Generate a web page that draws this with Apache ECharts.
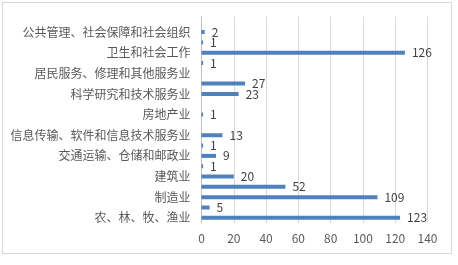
<!DOCTYPE html>
<html><head><meta charset="utf-8">
<script src="https://cdn.jsdelivr.net/npm/echarts@6/dist/echarts.min.js"></script>
<style>html,body{margin:0;padding:0;background:#fff}#c{width:458px;height:265px}</style>
</head><body><div id="c"></div>
<script>
const categories = ['农、林、牧、渔业','采矿业','制造业','电力、热力、燃气及水生产和供应业','建筑业','批发和零售业','交通运输、仓储和邮政业','住宿和餐饮业','信息传输、软件和信息技术服务业','金融业','房地产业','租赁和商务服务业','科学研究和技术服务业','水利、环境和公共设施管理业','居民服务、修理和其他服务业','教育','卫生和社会工作','文化、体育和娱乐业','公共管理、社会保障和社会组织','国际组织'];
const values = [123,5,109,52,20,1,9,1,13,null,1,null,23,27,null,1,126,1,2,null];
const xTicks = [0,20,40,60,80,100,120,140];

const font = '"Noto Sans CJK SC", "Noto Sans", sans-serif';
const chart = echarts.init(document.getElementById('c'));
chart.setOption({
  animation: false,
  backgroundColor: '#ffffff',
  graphic: [{type:'rect', shape:{x:2.5,y:2.5,width:449,height:251}, style:{fill:'none',stroke:'#d9d9d9',lineWidth:1}, silent:true}],
  grid: {left: 201.5, right: 30.5, top: 16.5, bottom: 42, containLabel: false},
  xAxis: {
    type: 'value', min: xTicks[0], max: xTicks[xTicks.length-1], interval: 20,
    axisLine: {show: false}, axisTick: {show: false},
    splitLine: {lineStyle: {color: '#d9d9d9', width: 1}},
    axisLabel: {color: '#595959', fontSize: 12, fontFamily: font, margin: 9}
  },
  yAxis: {
    type: 'category', data: categories,
    axisLine: {lineStyle: {color: '#bfbfbf'}}, axisTick: {show: false},
    axisLabel: {interval: 1, color: '#595959', fontSize: 12, fontFamily: font, margin: 11}
  },
  series: [{
    type: 'bar', data: values, barWidth: 4,
    itemStyle: {color: '#4f81bd'},
    label: {show: true, position: 'right', distance: 7, color: '#404040', fontSize: 12, fontFamily: font}
  }]
});
</script></body></html>
